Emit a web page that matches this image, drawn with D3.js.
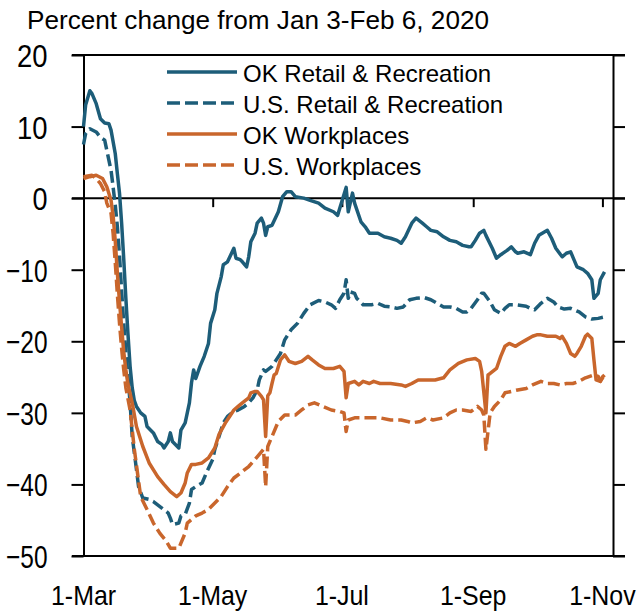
<!DOCTYPE html>
<html>
<head>
<meta charset="utf-8">
<script src="https://cdn.jsdelivr.net/npm/d3@7"></script>
<style>
  html, body { margin: 0; padding: 0; background: #fff; }
  svg { display: block; }
  text { font-family: "Liberation Sans", Arial, Helvetica, sans-serif; fill: #000; }
</style>
</head>
<body>
<svg id="chart" width="640" height="612"></svg>
<script>
// ---------------- data (days since 1-Mar-2020, percent change) ----------------
const titleText = "Percent change from Jan 3-Feb 6, 2020";
const yTicks = [20, 10, 0, -10, -20, -30, -40, -50];
const xTickLabels = ["1-Mar", "1-May", "1-Jul", "1-Sep", "1-Nov"];
const xTickDates = ["2020-03-01", "2020-05-01", "2020-07-01", "2020-09-01", "2020-11-01"];
const seriesNames = ["OK Retail & Recreation", "U.S. Retail & Recreation", "OK Workplaces", "U.S. Workplaces"];

const okRetailDays = [0,1,3,4,6,8,10,12,13,15,16,17,18,19,20,21,22,23,24,25,27,29,30,33,35,37,38,40,41,42,45,46,48,49,50,51,52,53,55,57,59,60,62,63,65,66,68,71,72,74,75,77,78,79,81,82,84,85,86,87,89,92,94,96,98,100,104,107,111,114,118,120,121,124,125,127,128,131,133,135,139,142,145,148,150,152,155,157,160,162,164,167,170,173,176,179,182,183,185,187,189,190,193,195,197,200,202,204,205,208,211,213,215,219,221,223,226,228,230,231,233,236,238,240,241,243,244,246];
const okRetailValues = [10,13,15,14.6,13.2,11.1,10.5,10.4,9.5,6.2,3.4,0.7,-3.5,-8.5,-14,-19,-23.5,-26.5,-28.3,-29.1,-30,-30.5,-31.9,-32.8,-34,-34.4,-34.9,-34,-32.8,-34,-34.9,-32.4,-31.4,-30,-28.6,-25.8,-24,-25.2,-23.5,-22.1,-20.3,-17.5,-15.6,-13.3,-11,-9.3,-8.9,-7,-8.4,-8.6,-8.9,-9.6,-8.2,-6.1,-4.9,-3.5,-2.8,-3.5,-5.2,-4,-3.8,-1.9,0.2,0.9,0.9,0.2,0,-0.3,-0.7,-1.4,-1.9,-2.4,-1.4,1.5,-1.9,0.7,-0.7,-3.3,-4,-4.9,-4.9,-5.4,-5.6,-5.9,-6.3,-5.4,-3.5,-2.8,-3.5,-4,-4.5,-4.7,-5.4,-5.9,-6.1,-6.6,-6.8,-6.8,-5.9,-4.9,-4.5,-5.2,-7,-8.4,-7.9,-7.3,-6.8,-7.5,-7.7,-7.5,-7.9,-6.3,-5.2,-4.5,-5.6,-7,-8.2,-7.7,-7.5,-8.2,-9.6,-10,-10.5,-11.4,-14,-13.3,-11.4,-10.3];

const usRetailDays = [0,1,3,6,8,10,11,13,14,15,16,17,18,19,20,21,22,23,25,26,28,31,33,37,40,41,42,45,46,48,50,51,53,56,58,61,62,64,66,68,71,73,76,78,80,82,83,85,86,89,91,93,95,98,101,104,107,111,114,117,119,121,123,124,125,126,128,129,132,136,139,142,145,148,151,154,157,161,164,167,170,173,176,179,181,183,186,188,189,192,194,197,199,201,204,209,211,213,216,219,222,224,227,230,234,237,240,243,246];
const usRetailValues = [7.5,9,9.7,9.25,8.5,8.1,6.7,3.9,1.5,-1,-4,-8,-13,-17.5,-21.5,-25,-28.6,-33.3,-37.9,-40.3,-41.9,-42.1,-42.4,-43.3,-44,-44.7,-45.6,-45.4,-44.4,-44.2,-42.6,-40.7,-40.3,-39.8,-38.4,-36.5,-35.1,-33.3,-31.4,-30.5,-29.8,-29.6,-29.1,-28.6,-27.9,-26.8,-25.4,-24,-24.2,-23.5,-22.6,-21.7,-19.8,-18.4,-17.5,-16.1,-14.9,-14.3,-14.5,-14.9,-15.4,-14.2,-13.3,-11.4,-14,-13.1,-13.3,-14,-14.9,-14.9,-14.7,-15.1,-15.2,-15.4,-15.2,-14.2,-14,-13.9,-14.2,-14.7,-15.2,-15.2,-15.4,-15.9,-15.9,-15.4,-14.2,-13.3,-13.3,-14.5,-15.6,-16.1,-15.4,-14.9,-14.9,-15.1,-15.4,-15.6,-14.7,-14,-14.5,-15.2,-15.5,-15.4,-15.9,-16.6,-16.9,-16.8,-16.6];

const okWorkDays = [0,3,6,9,11,13,14,15,16,17,18,19,20,21,23,25,28,31,35,38,41,44,46,48,49,51,53,56,59,62,64,67,69,71,73,75,78,79,81,82,84,85,86,87,88,89,90,91,93,95,97,100,103,106,108,111,114,118,121,123,124,125,128,130,132,135,137,140,145,150,152,155,158,162,166,170,173,177,181,185,187,188,190,191,192,195,197,199,201,204,206,209,212,214,216,219,223,225,226,228,230,232,233,235,237,238,240,241,242,244,245,246];
const okWorkValues = [2.75,3.0,3.2,2.75,1.6,-0.3,-2.5,-6,-10.5,-14.5,-18,-21.5,-24,-26,-28.6,-31.9,-34.7,-37,-38.9,-40,-41,-41.7,-41.2,-39.8,-38.4,-37.2,-37.2,-37,-36.3,-34.9,-33,-31.4,-30.5,-29.6,-29.1,-28.6,-27.9,-27.2,-27,-27,-27.7,-28.2,-33.3,-27.6,-27.2,-25.9,-24.7,-24.5,-22.6,-21.9,-22.8,-23.1,-22.8,-22.1,-22.6,-23.3,-23.8,-23.8,-23.5,-24.2,-27.9,-25.9,-25.6,-26.1,-25.6,-25.9,-25.6,-25.9,-25.9,-26.1,-26.3,-25.9,-25.4,-25.4,-25.4,-25.1,-24,-23.1,-22.6,-22.4,-22.8,-24.2,-30,-24.7,-24.5,-23.8,-22.1,-20.7,-20.3,-20.7,-20.3,-19.8,-19.3,-19.1,-19.1,-19.3,-19.3,-19.6,-19.3,-20.3,-21.7,-22.1,-21.7,-20.7,-19.3,-19,-19.6,-22.6,-25.4,-25.6,-25,-24.7];

const usWorkDays = [0,4,6,8,10,11,13,14,15,16,17,18,19,20,22,24,27,30,33,36,39,41,45,46,48,49,53,56,59,62,65,68,71,75,78,81,83,85,86,87,89,92,95,100,103,106,109,113,117,121,123,124,125,128,136,140,145,150,153,155,159,162,165,170,173,176,179,183,186,188,189,190,192,194,197,199,202,205,209,212,216,219,222,225,228,231,234,237,241,243,244,246];
const usWorkValues = [3.0,3.2,2.7,2.05,0.9,-0.7,-2.1,-5,-9,-13.5,-17.5,-21,-24,-26.5,-29.6,-35.1,-41.7,-43.5,-45.4,-46.8,-47.9,-48.9,-48.9,-48.2,-46.8,-45.4,-44.4,-44,-43.5,-42.6,-41.7,-40.3,-39.1,-38.2,-37.5,-36.5,-35.8,-35.1,-40.3,-34.7,-33.3,-31.2,-30.3,-30.3,-29.6,-28.9,-28.6,-29.1,-29.6,-29.8,-30,-32.6,-31,-30.7,-30.7,-30.7,-31,-31,-31.2,-31.4,-31.2,-30.7,-31,-30.7,-30,-29.6,-29.6,-29.8,-29.1,-29.6,-30.3,-35.1,-30,-29.1,-28.2,-27.2,-27,-26.8,-26.6,-26.1,-25.6,-25.9,-25.9,-26.1,-25.9,-25.9,-25.6,-25.1,-24.7,-24.9,-25.6,-24.7];

const seriesColors = ["#1d5d79", "#1d5d79", "#c9662c", "#c9662c"];
const seriesDashed = [false, true, false, true];

// ---------------- drawing ----------------
const svg = d3.select("#chart");
const start = new Date(2020, 2, 1);
const toDate = d => d3.timeDay.offset(start, d);
const parse = d3.timeParse("%Y-%m-%d");

const x = d3.scaleTime().domain([start, toDate(250)]).range([83.5, 613]);
const y = d3.scaleLinear().domain([-50, 20]).range([556, 55]);

const series = [
  okRetailDays.map((d, i) => [toDate(d), okRetailValues[i]]),
  usRetailDays.map((d, i) => [toDate(d), usRetailValues[i]]),
  okWorkDays.map((d, i) => [toDate(d), okWorkValues[i]]),
  usWorkDays.map((d, i) => [toDate(d), usWorkValues[i]])
];

// title
svg.append("text")
  .attr("x", 27).attr("y", 28.5)
  .attr("font-size", 26)
  .attr("textLength", 462).attr("lengthAdjust", "spacingAndGlyphs")
  .text(titleText);

const frame = svg.append("g").attr("stroke", "#000").attr("stroke-width", 2).attr("fill", "none");
// horizontal lines at 20, 0, -50 spanning past both axes
[20, 0, -50].forEach(v => {
  frame.append("line").attr("x1", 72).attr("x2", 625).attr("y1", y(v)).attr("y2", y(v));
});
// left and right axes
const left = svg.append("g").attr("transform", "translate(83.5,0)")
  .call(d3.axisLeft(y).tickValues(yTicks).tickSize(12).tickSizeOuter(0).tickPadding(24));
const right = svg.append("g").attr("transform", "translate(613,0)")
  .call(d3.axisRight(y).tickValues(yTicks).tickSize(12).tickSizeOuter(0).tickFormat(""));
[left, right].forEach(g => {
  g.selectAll("path.domain").attr("stroke", "#000").attr("stroke-width", 2);
  g.selectAll(".tick line").attr("stroke", "#000").attr("stroke-width", 2);
});
left.selectAll(".tick text")
  .attr("font-family", "\"Liberation Sans\", Arial, sans-serif")
  .attr("font-size", 32)
  .attr("fill", "#000")
  .attr("dy", null)
  .attr("y", 11.5)
  .each(function(d) {
    const s = String(d);
    const w = s.length === 1 ? 15 : (s[0] === "-" ? 41.5 : 30.5);
    d3.select(this).attr("textLength", w).attr("lengthAdjust", "spacingAndGlyphs");
  });

// x ticks hanging from zero line
const xTickDateObjs = xTickDates.map(parse);
svg.append("g").attr("transform", `translate(0,${y(0)})`)
  .call(d3.axisBottom(x).tickValues(xTickDateObjs).tickSize(9).tickFormat(""))
  .call(g => g.select("path.domain").remove())
  .call(g => g.selectAll(".tick line").attr("stroke", "#000").attr("stroke-width", 2));

// x labels (condensed horizontally, like the reference face)
svg.append("g").selectAll("text").data(xTickLabels).join("text")
  .attr("transform", (d, i) => `translate(${x(xTickDateObjs[i])},605) scale(0.89,1)`)
  .attr("text-anchor", "middle")
  .attr("font-size", 28)
  .text(d => d);

// lines
const line = d3.line().x(d => x(d[0])).y(d => y(d[1])).curve(d3.curveLinear);
svg.append("g").selectAll("path").data(series).join("path")
  .attr("d", line)
  .attr("fill", "none")
  .attr("stroke", (d, i) => seriesColors[i])
  .attr("stroke-width", 3.5)
  .attr("stroke-linejoin", "round")
  .attr("stroke-dasharray", (d, i) => seriesDashed[i] ? "12,5" : null);

// legend
const legend = svg.append("g");
seriesNames.forEach((name, i) => {
  const ly = 72 + i * 31;
  legend.append("line")
    .attr("x1", 167).attr("x2", 237).attr("y1", ly).attr("y2", ly)
    .attr("stroke", seriesColors[i]).attr("stroke-width", 3.5)
    .attr("stroke-dasharray", seriesDashed[i] ? "13,5" : null);
  legend.append("text")
    .attr("x", 243).attr("y", ly + 9.5)
    .attr("font-size", 24)
    .text(name);
});
</script>
</body>
</html>
